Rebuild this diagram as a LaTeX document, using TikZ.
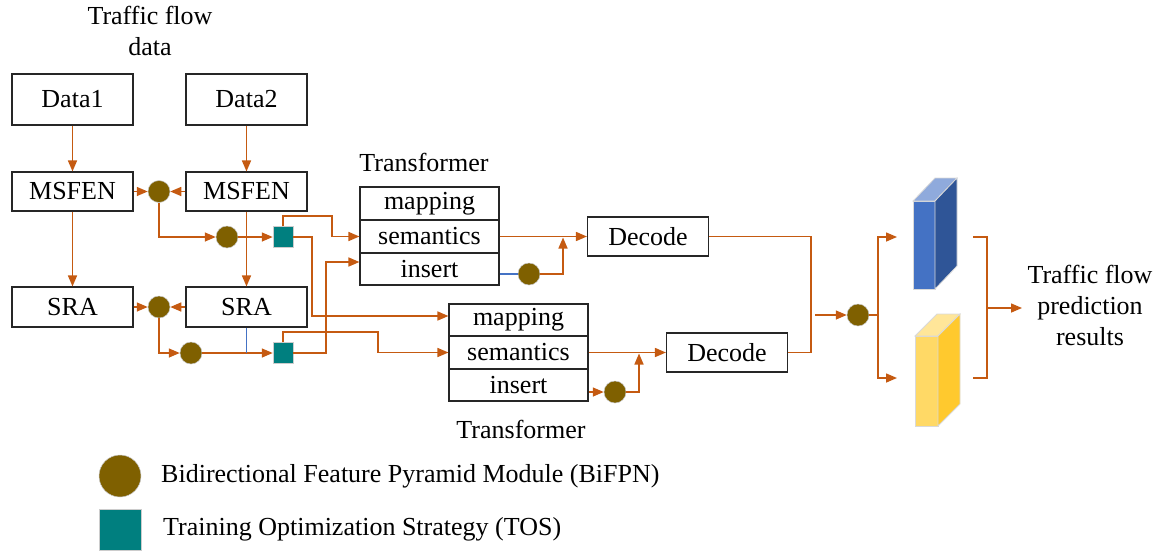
\documentclass[tikz,border=0pt]{standalone}
\usepackage{fontspec}
\setmainfont{Liberation Serif}
\newfontfamily\lser{Liberation Serif}
\usetikzlibrary{arrows.meta,calc}
\definecolor{org}{HTML}{C55A11}
\definecolor{bifc}{HTML}{7F6000}
\definecolor{tosc}{HTML}{007F7F}
\definecolor{bline}{HTML}{4472C4}
\definecolor{bfront}{HTML}{4472C4}
\definecolor{bside}{HTML}{2F5597}
\definecolor{btop}{HTML}{8FAADC}
\definecolor{yfront}{HTML}{FFD966}
\definecolor{yside}{HTML}{FFC92E}
\definecolor{ytop}{HTML}{FFE699}
\begin{document}
\begin{tikzpicture}[x=1pt,y=-1pt,
 every node/.style={font=\lser\fontsize{26}{31}\selectfont, inner sep=0pt},
 box/.style={draw=black!85, line width=1.1pt, fill=white, minimum height=39pt, minimum width=121pt},
 row/.style={draw=black!85, line width=1.1pt, fill=white, minimum width=139pt, minimum height=33pt},
 bif/.style={circle, fill=bifc, draw=gray!45, line width=0.5pt, minimum size=22pt},
 tos/.style={rectangle, fill=tosc, draw=gray!40, line width=0.5pt, minimum width=20pt, minimum height=21pt},
 conn/.style={draw=org, line width=1.5pt},
 arr/.style={conn, -{Triangle[length=11pt,width=9pt]}},
 bl/.style={draw=bline, line width=1.5pt},
 face/.style={draw=gray!30, line width=0.8pt}
]
\useasboundingbox (0,0) rectangle (1161,552);

% title
\node[align=center] (ttl) at (150,31) {Traffic flow\\data};

% left column boxes
\node[box, minimum height=51pt] (data1) at (72.5,99.5) {Data1};
\node[box, minimum height=51pt] (data2) at (246.5,99.5) {Data2};
\node[box] (msfen1) at (72.5,191.5) {MSFEN};
\node[box] (msfen2) at (246.5,191.5) {MSFEN};
\node[box, minimum height=40pt] (sra1) at (72.5,307) {SRA};
\node[box, minimum height=40pt] (sra2) at (246.5,307) {SRA};

% BiFPN circles and TOS squares
\node[bif] (c1) at (159,191.5) {};
\node[bif] (c2) at (227,237) {};
\node[bif] (c3) at (159,307) {};
\node[bif] (c4) at (191,353) {};
\node[tos] (s1) at (283,237) {};
\node[tos] (s2) at (283,353) {};

% Transformers
\node (tl1) at (424,162) {Transformer};
\node[row] (t1m) at (429.5,203.5) {mapping};
\node[row] (t1s) at (429.5,236.5) {semantics};
\node[row, minimum height=32pt] (t1i) at (429.5,269) {insert};
\node[row, minimum height=32pt] (t2m) at (518.5,320) {mapping};
\node[row] (t2s) at (518.5,352.5) {semantics};
\node[row, minimum height=32pt] (t2i) at (518.5,385) {insert};
\node (tl2) at (521,429) {Transformer};

\node[bif] (c5) at (529,274) {};
\node[bif] (c6) at (615,392) {};

% Decoders
\node[box] (dec1) at (648,236.5) {Decode};
\node[box] (dec2) at (727,352.5) {Decode};
\node[bif] (c7) at (858,315) {};

% helper coordinates
\coordinate (k1) at (312,316);
\coordinate (k2) at (326,262);
\coordinate (k3) at (332,216);
\coordinate (k4) at (378,332);
\coordinate (j1) at (563,237.5);
\coordinate (j2) at (639,353.5);
\coordinate (m1) at (811,300);
\coordinate (m2) at (815,315);
\coordinate (m3) at (878,315);
\coordinate (o1) at (897,237);
\coordinate (o2) at (897,378);
\coordinate (r1) at (973,237);
\coordinate (r2) at (987,378);
\coordinate (r3) at (973,378);
\coordinate (r4) at (987,308);
\coordinate (r5) at (1022,308);

% connectors, left part
\draw[arr] (data1) -- (msfen1);
\draw[arr] (data2) -- (msfen2);
\draw[arr] (msfen1) -- (c1);
\draw[arr] (msfen2) -- (c1);
\draw[arr] (msfen1) -- (sra1);
\draw[arr] (msfen2) -- (sra2);
\draw[arr] (sra1) -- (c3);
\draw[arr] (sra2) -- (c3);
\draw[arr] (c1.south) |- (c2.west);
\draw[arr] (c2) -- (s1);
\draw[arr] (c3.south) |- (c4.west);
\draw[arr] (c4) -- (s2);
\draw[bl] (sra2.south) -- (sra2.south |- c4);

% TOS outputs
\draw[arr] (s1.north) |- (k3) |- (t1s.west);
\draw[arr] (s1.east) -| (k1) -- (t2m.west |- k1);
\draw[arr] (s2.north) |- (k4) |- (t2s.west);
\draw[arr] (s2.east) -| (k2) -- (t1i.west |- k2);

% transformer outputs
\draw[arr] (t1s) -- (dec1);
\draw[bl] (t1i.east |- c5) -- (c5);
\draw[arr] (c5.east) -| (j1);
\draw[arr] (t2s) -- (dec2);
\draw[arr] (t2i.east |- c6) -- (c6);
\draw[arr] (c6.east) -| (j2);

% decoders to fusion
\draw[conn] (dec1.east) -| (m1) |- (dec2.east);
\draw[arr] (m2) -- (c7);
\draw[conn] (c7.east) -- (m3);
\draw[arr] (m3) |- (o1);
\draw[arr] (m3) |- (o2);

% blue block
\filldraw[face, fill=bfront] (913,201) rectangle (935,289);
\filldraw[face, fill=btop] (913,201) -- (935,178) -- (957,178) -- (935,201) -- cycle;
\filldraw[face, fill=bside] (935,201) -- (957,178) -- (957,266) -- (935,289) -- cycle;
% yellow block
\filldraw[face, fill=yfront] (915,336) rectangle (938,426);
\filldraw[face, fill=ytop] (915,336) -- (937,314) -- (960,314) -- (938,336) -- cycle;
\filldraw[face, fill=yside] (938,336) -- (960,314) -- (960,404) -- (938,426) -- cycle;

% output bracket
\draw[conn] (r1) -| (r2) -- (r3);
\draw[arr] (r4) -- (r5);
\node[align=center] (res) at (1090,305) {Traffic flow\\prediction\\results};

% legend
\node[circle, fill=bifc, draw=gray!45, line width=0.5pt, minimum size=42pt] (lc) at (120,476) {};
\node[anchor=west] (lt1) at (161,476) {Bidirectional Feature Pyramid Module (BiFPN)};
\node[rectangle, fill=tosc, draw=gray!40, line width=0.5pt, minimum width=42pt, minimum height=41pt] (ls) at (120,529.5) {};
\node[anchor=west] (lt2) at (163,529) {Training Optimization Strategy (TOS)};
\end{tikzpicture}
\end{document}
